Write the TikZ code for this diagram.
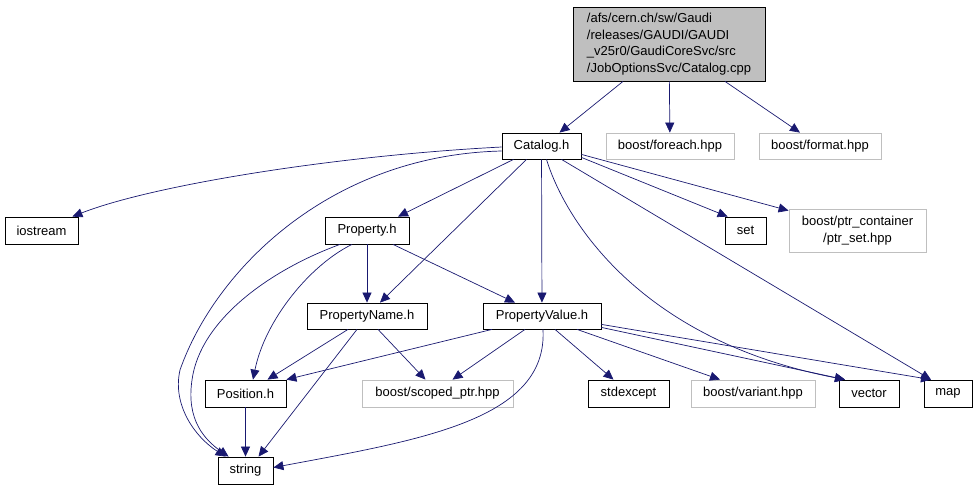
\documentclass[tikz,border=0pt]{standalone}
\usepackage{fontspec}
\setmainfont{Liberation Sans}
\usetikzlibrary{arrows.meta}
\definecolor{edgeblue}{RGB}{25,25,112}
\definecolor{boxgray}{RGB}{191,191,191}

\begin{document}
\begin{tikzpicture}[x=1pt,y=-1pt,
 font=\fontsize{13}{16.5}\selectfont,
 hfile/.style={draw=black,line width=0.8pt,inner sep=0pt,minimum height=26pt},
 sysfile/.style={draw=boxgray,line width=0.8pt,inner sep=0pt,minimum height=26pt},
 inc/.style={draw=edgeblue,line width=0.7pt,-{Triangle[length=10pt,width=9pt]}}]

 \useasboundingbox (0,0) rectangle (977,491);

% Files
 \node[hfile,fill=boxgray,minimum width=192pt,minimum height=74pt,align=left] (cpp) at (669,44)
  {/afs/cern.ch/sw/Gaudi\\/releases/GAUDI/GAUDI\\\_v25r0/GaudiCoreSvc/src\\/JobOptionsSvc/Catalog.cpp};
 \node[hfile,minimum width=79pt] (catalog) at (541.5,146) {Catalog.h};
 \node[sysfile,minimum width=128pt] (foreach) at (670,146) {boost/foreach.hpp};
 \node[sysfile,minimum width=122pt] (format) at (820,146) {boost/format.hpp};
 \node[hfile,minimum width=73pt,minimum height=27pt] (iostream) at (41.5,230.5) {iostream};
 \node[hfile,minimum width=84pt,minimum height=27pt] (property) at (367,230.5) {Property.h};
 \node[hfile,minimum width=41pt,minimum height=27pt] (set) at (745.5,230.5) {set};
 \node[sysfile,minimum width=137pt,minimum height=43pt,align=center] (ptrset) at (857.5,230.5)
  {boost/ptr\_container\\/ptr\_set.hpp};
 \node[hfile,minimum width=120pt] (pname) at (367,316) {PropertyName.h};
 \node[hfile,minimum width=118pt] (pvalue) at (542,316) {PropertyValue.h};
 \node[hfile,minimum width=81pt,minimum height=27pt] (position) at (245.5,393.5) {Position.h};
 \node[sysfile,minimum width=151pt,minimum height=27pt] (scoped) at (437.5,393.5) {boost/scoped\_ptr.hpp};
 \node[hfile,minimum width=81pt,minimum height=27pt] (stdexcept) at (628.5,393.5) {stdexcept};
 \node[sysfile,minimum width=124pt,minimum height=27pt] (variant) at (753,393.5) {boost/variant.hpp};
 \node[hfile,minimum width=60pt,minimum height=27pt] (vector) at (869,393.5) {vector};
 \node[hfile,minimum width=48pt,minimum height=27pt] (map) at (948,393.5) {map};
 \node[hfile,minimum width=55pt,minimum height=27pt] (string) at (245.5,470.5) {string};

% Includes of Catalog.cpp
 \draw[inc] ([xshift=-46pt]cpp.south) -- ([xshift=18pt]catalog.north);
 \draw[inc] (cpp) -- (foreach);
 \draw[inc] ([xshift=56pt]cpp.south) -- ([xshift=-20pt]format.north);

% Includes of Catalog.h
 \draw[inc] ([yshift=-1pt]catalog.west) .. controls (330,156) and (150,186) .. ([xshift=-6pt]iostream.north east);
 \draw[inc] ([yshift=-5pt]catalog.west) .. controls (330,155) and (215,270) .. (180,370)
  .. controls (172,405) and (195,437) .. ([xshift=8pt]string.north west);
 \draw[inc] ([xshift=-28pt]catalog.south) -- ([xshift=31pt]property.north);
 \draw[inc] ([xshift=-15pt]catalog.south) -- ([xshift=13pt]pname.north);
 \draw[inc] (catalog) -- (pvalue);
 \draw[inc] ([yshift=2pt]catalog.south east) -- ([xshift=3pt]set.north west);
 \draw[inc] ([yshift=5pt]catalog.south east) -- ([yshift=-2pt]ptrset.north west);
 \draw[inc] ([xshift=20pt]catalog.south) -- ([xshift=-17pt]map.north);
 \draw[inc] ([xshift=5pt]catalog.south) .. controls (565,220) and (640,340) .. ([xshift=-24pt]vector.north);

% Includes of Property.h
 \draw[inc] (property) -- (pname);
 \draw[inc] ([xshift=26pt]property.south) -- ([xshift=-27pt]pvalue.north);
 \draw[inc] ([xshift=-27pt]property.south) .. controls (270,270) and (200,320) .. (192,380)
  .. controls (186,420) and (205,440) .. ([xshift=11pt]string.north west);
 \draw[inc] ([xshift=-15pt]property.south) .. controls (310,265) and (265,320) .. ([xshift=7.5pt]position.north);

% Includes of PropertyName.h
 \draw[inc] ([xshift=-19pt]pname.south) -- ([xshift=22pt]position.north);
 \draw[inc] ([xshift=-10pt]pname.south) -- ([xshift=13pt]string.north);
 \draw[inc] ([xshift=11pt]pname.south) -- ([xshift=-12pt]scoped.north);

% Includes of PropertyValue.h
 \draw[inc] ([xshift=-50pt]pvalue.south) -- (position.north east);
 \draw[inc] ([xshift=-17pt]pvalue.south) -- ([xshift=15pt]scoped.north);
 \draw[inc] ([xshift=1pt]pvalue.south) .. controls (548,420) and (420,440) .. ([yshift=3pt]string.east);
 \draw[inc] ([xshift=13pt]pvalue.south) -- ([xshift=-15pt]stdexcept.north);
 \draw[inc] ([xshift=35pt]pvalue.south) -- ([xshift=-33pt]variant.north);
 \draw[inc] ([yshift=2pt]pvalue.south east) -- ([xshift=-24pt]vector.north);
 \draw[inc] ([yshift=5pt]pvalue.south east) -- ([xshift=-17pt]map.north);

 \draw[inc] (position) -- (string);

\end{tikzpicture}
\end{document}
